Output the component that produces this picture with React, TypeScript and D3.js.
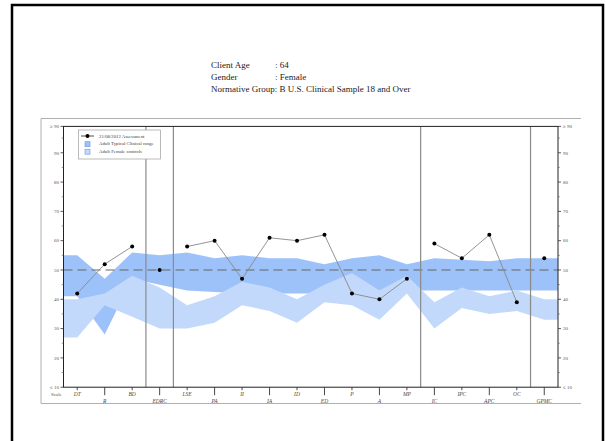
import React from "react";
import * as d3 from "d3";

const categories = ["DT","R","BD","EDRC","LSE","PA","II","IA","ID","ED","P","A","MP","IC","IPC","APC","OC","GPMC"];
const assessment = [42,52,58,50,58,60,47,61,60,62,42,40,47,59,54,62,39,54];
const clinicalUpper = [55,47,56,55,56,54,55,54,54,52,54,55,52,54,53.5,53,54,54];
const clinicalLower = [41,28,47,45,43,42.5,42,42,42,42,43,43,43,43,43,43,43,43];
const controlUpper = [40,42,48,44,38,41,46,44,40,45,49,43,48,39,44,41,43,40];
const controlLower = [27,38,34,30,30,32,38,36,32,39,38,33,42,30,37,35,36,33];
const lineGroups = [[0,1,2],[3],[4,5,6,7,8,9,10,11,12],[13,14,15,16],[17]];
const separatorsAfter = [2,3,12,16];
const yTickValues = [10,20,30,40,50,60,70,80,90,99];
const yTickLabels = ["≤ 10","20","30","40","50","60","70","80","90","≥ 90"];
const minorTicks = [15,25,35,45,55,65,75,85,95];
const headerLabels = ["Client Age","Gender"];
const headerValues = [": 64",": Female"];
const headerNorm = "Normative Group: B U.S. Clinical Sample 18 and Over";
const legendLabels = ["21/08/2012 Assessment","Adult Typical Clinical range","Adult Female controls"];

const DARK = "#9dc2f9";
const LIGHT = "#c2d9fc";

export default function App() {
  const left = 63.5, right = 558;
  const x = d3.scalePoint<string>().domain(categories).range([left, right]).padding(0.5);
  const y = d3.scaleLinear().domain([10, 99]).range([387.2, 126.4]);
  const step = x.step();

  const bandPath = (up: number[], lo: number[]) => {
    const pts = categories.map((c, i) => ({ x: x(c) as number, u: up[i], l: lo[i] }));
    const full = [{ ...pts[0], x: left }, ...pts, { ...pts[pts.length - 1], x: right }];
    return d3.area<any>().x(d => d.x).y0(d => y(d.l)).y1(d => y(d.u))(full) || "";
  };
  const line = d3.line<number>().x(i => x(categories[i]) as number).y(i => y(assessment[i]));

  const serif = "'Liberation Serif', 'Times New Roman', serif";

  return (
    <svg width={606} height={441} style={{ position: "absolute", left: 0, top: 0, background: "#fff" }} fontFamily={serif}>
      <rect x={12} y={5} width={591} height={460} fill="#fff" stroke="#000" strokeWidth={2.5} />
      {headerLabels.map((t, i) => (
        <g key={t}>
          <text x={211} y={68 + i * 11.8} fontSize={9} fill="#222">{t}</text>
          <text x={275} y={68 + i * 11.8} fontSize={9} fill="#222">{headerValues[i]}</text>
        </g>
      ))}
      <text x={211} y={68 + 2 * 11.8} fontSize={9} fill="#222">{headerNorm}</text>
      <path d="M581,118.5 H41 V403.5 H581" fill="none" stroke="#b0b0b0" strokeWidth={1} />

      <path d={bandPath(clinicalUpper, clinicalLower)} fill={DARK} />
      <path d={bandPath(controlUpper, controlLower)} fill={LIGHT} />

      <line x1={left} x2={right} y1={y(50)} y2={y(50)} stroke="#666" strokeWidth={1} strokeDasharray="9,5" />

      {separatorsAfter.map(i => {
        const sx = (x(categories[i]) as number) + step / 2;
        return <line key={i} x1={sx} x2={sx} y1={y(99)} y2={y(10)} stroke="#8a8a8a" strokeWidth={1.2} />;
      })}

      {lineGroups.map((g, k) => g.length > 1 ? (
        <path key={k} d={line(g) || ""} fill="none" stroke="#888" strokeWidth={0.9} />
      ) : null)}
      {assessment.map((v, i) => (
        <circle key={i} cx={x(categories[i]) as number} cy={y(v)} r={2} fill="#000" />
      ))}

      <rect x={left} y={y(99)} width={right - left} height={y(10) - y(99)} fill="none" stroke="#222" strokeWidth={1} />

      {yTickValues.map((v, i) => (
        <g key={v}>
          <line x1={left - 3} x2={left} y1={y(v)} y2={y(v)} stroke="#333" strokeWidth={0.8} />
          <line x1={right} x2={right + 3} y1={y(v)} y2={y(v)} stroke="#333" strokeWidth={0.8} />
          <text x={left - 4.5} y={y(v) + 1.8} fontSize={5} textAnchor="end" fill="#555">{yTickLabels[i]}</text>
          <text x={right + 5} y={y(v) + 1.8} fontSize={5} fill="#555">{yTickLabels[i]}</text>
        </g>
      ))}
      {minorTicks.map(v => (
        <g key={v}>
          <line x1={left - 1.8} x2={left} y1={y(v)} y2={y(v)} stroke="#555" strokeWidth={0.6} />
          <line x1={right} x2={right + 1.8} y1={y(v)} y2={y(v)} stroke="#555" strokeWidth={0.6} />
        </g>
      ))}
      <text x={51} y={396} fontSize={5} fill="#555">Scale</text>

      <g opacity={0.99}>
        {categories.map((c, i) => {
          const cx = x(c) as number;
          const odd = i % 2 === 1;
          return (
            <g key={c}>
              <line x1={cx} x2={cx} y1={y(10)} y2={y(10) + (odd ? 8 : 3)} stroke="#333" strokeWidth={0.9} />
              <text x={cx} y={odd ? 402.5 : 396} fontSize={5.5} fontStyle="italic" textAnchor="middle" fill="#444">{c}</text>
            </g>
          );
        })}
      </g>

      <g>
        <rect x={78.5} y={130} width={82} height={29} fill="#fff" stroke="#aaa" strokeWidth={0.8} />
        <line x1={81} x2={94} y1={136} y2={136} stroke="#222" strokeWidth={0.8} />
        <circle cx={87.5} cy={136} r={2} fill="#000" />
        <rect x={85} y={141.7} width={5} height={5} fill={DARK} stroke="#6f95d6" strokeWidth={0.6} />
        <rect x={85} y={149.2} width={5} height={5} fill={LIGHT} stroke="#6f95d6" strokeWidth={0.6} />
        {legendLabels.map((t, i) => (
          <text key={t} x={99} y={137.7 + i * 7.6} fontSize={4.8} fill="#444">{t}</text>
        ))}
      </g>
    </svg>
  );
}
